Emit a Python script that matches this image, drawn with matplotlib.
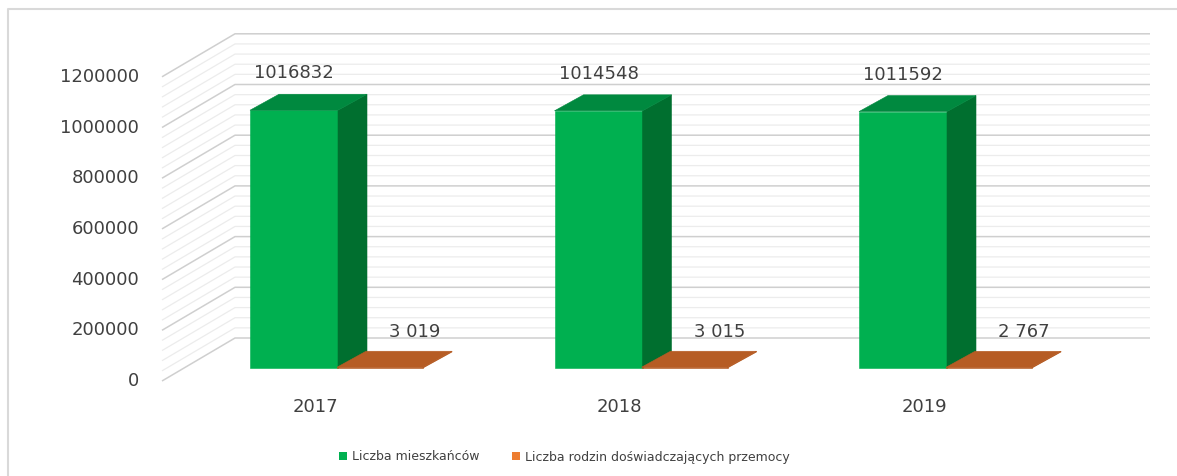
import matplotlib
matplotlib.use('Agg')
import matplotlib.pyplot as plt
from matplotlib.patches import Polygon, Patch

# values
years = ['2017', '2018', '2019']
residents = [1016832, 1014548, 1011592]
families = [3019, 3015, 2767]
resident_labels = ['1016832', '1014548', '1011592']
family_labels = ['3 019', '3 015', '2 767']
y_ticks = [0, 200000, 400000, 600000, 800000, 1000000, 1200000]
minor_step = 40000

# scale of the fake 3D scene (pixels per data unit)
PX_PER_X = 304.5
PX_PER_V = 2.535e-4

GREEN = '#00B050'
GREEN_TOP = '#00893F'
GREEN_SIDE = '#006F2F'
ORANGE = '#ED7D31'
ORANGE_TOP = '#B65C24'
TEXT = '#404040'


def ox(px):
    return px / PX_PER_X


def ov(px):
    return px / PX_PER_V


def box(ax, x0, w, base, h, ddx, ddy, front, top, side):
    kw = dict(linewidth=0.4, closed=True)
    ax.add_patch(Polygon([(x0, base), (x0 + w, base), (x0 + w, base + h), (x0, base + h)],
                         facecolor=front, edgecolor=front, **kw))
    ax.add_patch(Polygon([(x0 + w, base), (x0 + w + ddx, base + ddy),
                          (x0 + w + ddx, base + h + ddy), (x0 + w, base + h)],
                         facecolor=side, edgecolor=side, **kw))
    ax.add_patch(Polygon([(x0, base + h), (x0 + w, base + h),
                          (x0 + w + ddx, base + h + ddy), (x0 + ddx, base + h + ddy)],
                         facecolor=top, edgecolor=top, **kw))


fig = plt.figure(figsize=(11.77, 4.76), dpi=100)
ax = fig.add_axes([0, 0, 1, 1])
ax.set_xlim(-ox(315), ox(1177 - 315))
ax.set_ylim(-ov(476 - 381), ov(381))
ax.axis('off')

# walls: side wall (left) and back wall with major + minor gridlines
wall_x0 = ox(162 - 315)
wall_dx, wall_dy = ox(73), ov(43)
back_x1 = ox(1150 - 315)
v = 0
while v <= y_ticks[-1]:
    major = v in y_ticks
    color = '#CFCFCF' if major else '#ECECEC'
    lw = 1.1 if major else 0.9
    ax.plot([wall_x0, wall_x0 + wall_dx, back_x1], [v, v + wall_dy, v + wall_dy],
            color=color, lw=lw, zorder=1, solid_capstyle='butt')
    v += minor_step

for t in y_ticks:
    ax.text(ox(139 - 315), t, str(t), ha='right', va='center',
            fontsize=13, color=TEXT)

# bars
bar_dx, bar_dy = ox(29), ov(16)
base = ov(13)
for i, year in enumerate(years):
    gx = i + ox(-65)
    box(ax, gx, ox(88), base, residents[i], bar_dx, bar_dy,
        GREEN, GREEN_TOP, GREEN_SIDE)
    fx = i + ox(22)
    box(ax, fx, ox(86), base, families[i], bar_dx, bar_dy,
        ORANGE_TOP, ORANGE_TOP, ORANGE_TOP)

    ax.text(gx + ox(44), residents[i] + base + bar_dy + ov(21), resident_labels[i],
            ha='center', va='center', fontsize=13, color=TEXT, zorder=5)
    ax.text(i + ox(100), families[i] + base + bar_dy + ov(19), family_labels[i],
            ha='center', va='center', fontsize=13, color=TEXT, zorder=5)
    ax.text(i, -ov(407 - 381), year, ha='center', va='center',
            fontsize=13, color=TEXT)

handles = [Patch(facecolor=GREEN, edgecolor='none', label='Liczba mieszkańców'),
           Patch(facecolor=ORANGE, edgecolor='none', label='Liczba rodzin doświadczających przemocy')]
leg = fig.legend(handles=handles, loc='center', ncol=2, frameon=False,
                 bbox_to_anchor=(564.5 / 1177, 1 - 457 / 476),
                 fontsize=9, handlelength=0.65, handleheight=0.6,
                 handletextpad=0.4, columnspacing=2.6)
for txt in leg.get_texts():
    txt.set_color(TEXT)

# chart frame (top and left edges visible)
fig.add_artist(plt.Line2D([7.5 / 1177, 7.5 / 1177, 1], [0, 1 - 9 / 476, 1 - 9 / 476],
                          transform=fig.transFigure, color='#D9D9D9', lw=1.5))

fig.savefig('out.png', dpi=100)
